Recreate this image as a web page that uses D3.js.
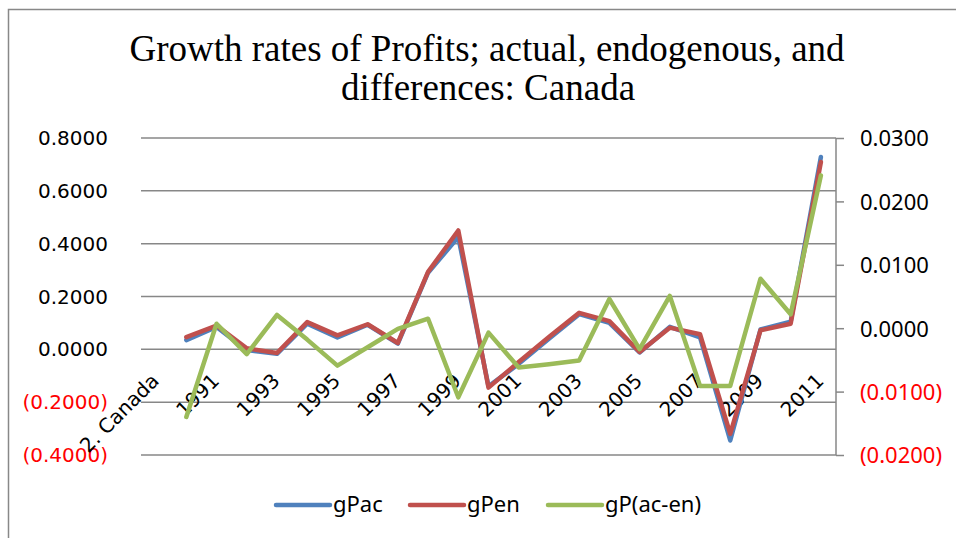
<!DOCTYPE html>
<html>
<head>
<meta charset="utf-8">
<script src="https://cdn.jsdelivr.net/npm/d3@7"></script>
<style>
  body { margin: 0; background: #fff; }
  svg { display: block; }
</style>
</head>
<body>
<div class="chart"></div>
<script>
const years = ['2. Canada', '1990', '1991', '1992', '1993', '1994', '1995', '1996', '1997', '1998', '1999',
               '2000', '2001', '2002', '2003', '2004', '2005', '2006', '2007', '2008', '2009', '2010', '2011'];
const gPac = [null, 0.035, 0.085, -0.003, -0.017, 0.097, 0.045, 0.093, 0.022, 0.290, 0.425,
              -0.140, -0.055, 0.040, 0.133, 0.100, -0.012, 0.085, 0.045, -0.345, 0.075, 0.105, 0.728];
const gPen = [null, 0.046, 0.090, 0.004, -0.014, 0.103, 0.053, 0.095, 0.024, 0.293, 0.450,
              -0.145, -0.048, 0.047, 0.138, 0.107, -0.010, 0.082, 0.057, -0.320, 0.072, 0.097, 0.709];
const gPdiff = [null, -0.0140, 0.0007, -0.0041, 0.0021, -0.0018, -0.0059, -0.0030, -0.0001, 0.0015, -0.0109,
                -0.0007, -0.0062, -0.0057, -0.0051, 0.0046, -0.0033, 0.0051, -0.0091, -0.0091, 0.0078, 0.0022, 0.0241];
const leftTicks = [-0.4, -0.2, 0, 0.2, 0.4, 0.6, 0.8];
const rightTicks = [-0.02, -0.01, 0, 0.01, 0.02, 0.03];
const labelEvery = 2;

const W = 956, H = 538;
const plot = {left: 141, right: 836, top: 138, bottom: 455};

const svg = d3.select('.chart')
              .append('svg')
              .attr('width', W)
              .attr('height', H);

// outer frame
svg.append('rect')
    .attr('x', 8.5).attr('y', 9.5)
    .attr('width', W + 20).attr('height', H + 20)
    .attr('fill', 'none')
    .attr('stroke', '#888')
    .attr('stroke-width', 1.5);

const xScale = d3.scaleBand()
                .domain(years)
                .range([plot.left, plot.right]);
const cx = d => xScale(d) + xScale.bandwidth() / 2;

const yLeft = d3.scaleLinear()
                .domain([-0.4, 0.8])
                .range([plot.bottom, plot.top]);
const yRight = d3.scaleLinear()
                .domain([-0.02, 0.03])
                .range([plot.bottom, plot.top]);

const fmt = v => {
    const s = d3.format('.4f')(Math.abs(v));
    return v < -1e-9 ? '(' + s + ')' : s;
};

// gridlines
svg.append('g')
    .selectAll('line')
    .data(leftTicks)
    .enter()
    .append('line')
      .attr('x1', plot.left).attr('x2', plot.right)
      .attr('y1', d => yLeft(d)).attr('y2', d => yLeft(d))
      .attr('stroke', '#878787')
      .attr('stroke-width', 1.5);

// left axis labels
svg.append('g')
    .selectAll('text')
    .data(leftTicks)
    .enter()
    .append('text')
      .attr('x', 108)
      .attr('y', d => yLeft(d) + 7)
      .attr('text-anchor', 'end')
      .attr('font-family', 'DejaVu Sans')
      .attr('font-size', '20px')
      .attr('fill', d => d < 0 ? '#ff0000' : '#000')
      .text(fmt);

// right axis
const yAxisR = d3.axisRight(yRight)
                .tickValues(rightTicks)
                .tickSize(8)
                .tickFormat(fmt);
const gR = svg.append('g')
    .attr('transform', 'translate(' + plot.right + ',0)')
    .call(yAxisR);
gR.select('.domain').attr('stroke', '#878787').attr('stroke-width', 1.5).attr('d', 'M0,' + plot.top + 'V' + plot.bottom);
gR.selectAll('.tick line').attr('stroke', '#878787').attr('stroke-width', 1.5);
gR.selectAll('.tick text')
    .attr('x', 24)
    .attr('dy', '0.36em')
    .attr('font-family', 'Noto Sans')
    .attr('font-size', '22px')
    .attr('fill', d => d < 0 ? '#ff0000' : '#000');

// category labels
svg.append('g')
    .selectAll('text')
    .data(years.filter((d, i) => i % labelEvery === 0))
    .enter()
    .append('text')
      .attr('transform', d => 'translate(' + (cx(d) + 4) + ',382) rotate(-45)')
      .attr('text-anchor', 'end')
      .attr('font-family', 'DejaVu Sans')
      .attr('font-size', '20px')
      .attr('fill', '#000')
      .text(d => d);

// series lines
const series = [
    {name: 'gPac', values: gPac, y: yLeft, color: '#4F81BD'},
    {name: 'gPen', values: gPen, y: yLeft, color: '#C0504D'},
    {name: 'gP(ac-en)', values: gPdiff, y: yRight, color: '#9BBB59'}
];

series.forEach(s => {
    const line = d3.line()
        .defined(d => d[1] !== null)
        .x(d => cx(d[0]))
        .y(d => s.y(d[1]));
    svg.append('path')
        .datum(years.map((d, i) => [d, s.values[i]]))
        .attr('d', line)
        .attr('fill', 'none')
        .attr('stroke', s.color)
        .attr('stroke-width', 4.5)
        .attr('stroke-linejoin', 'round')
        .attr('stroke-linecap', 'round');
});

// legend
const legendX = [276, 410, 548];
const legend = svg.append('g');
legend.selectAll('line')
    .data(series)
    .enter()
    .append('line')
      .attr('x1', (d, i) => legendX[i])
      .attr('x2', (d, i) => legendX[i] + 54)
      .attr('y1', 505).attr('y2', 505)
      .attr('stroke', d => d.color)
      .attr('stroke-width', 4.5)
      .attr('stroke-linecap', 'round');
legend.selectAll('text')
    .data(series)
    .enter()
    .append('text')
      .attr('x', (d, i) => legendX[i] + 57)
      .attr('y', 512)
      .attr('font-family', 'Noto Sans')
      .attr('font-size', '22px')
      .attr('fill', '#000')
      .text(d => d.name);

// title
const title = svg.append('text')
    .attr('text-anchor', 'middle')
    .attr('font-family', 'Liberation Serif')
    .attr('font-size', '37px')
    .attr('fill', '#000');
title.append('tspan').attr('x', 487).attr('y', 61).text('Growth rates of Profits; actual, endogenous, and');
title.append('tspan').attr('x', 488).attr('y', 100).text('differences: Canada');
</script>
</body>
</html>
